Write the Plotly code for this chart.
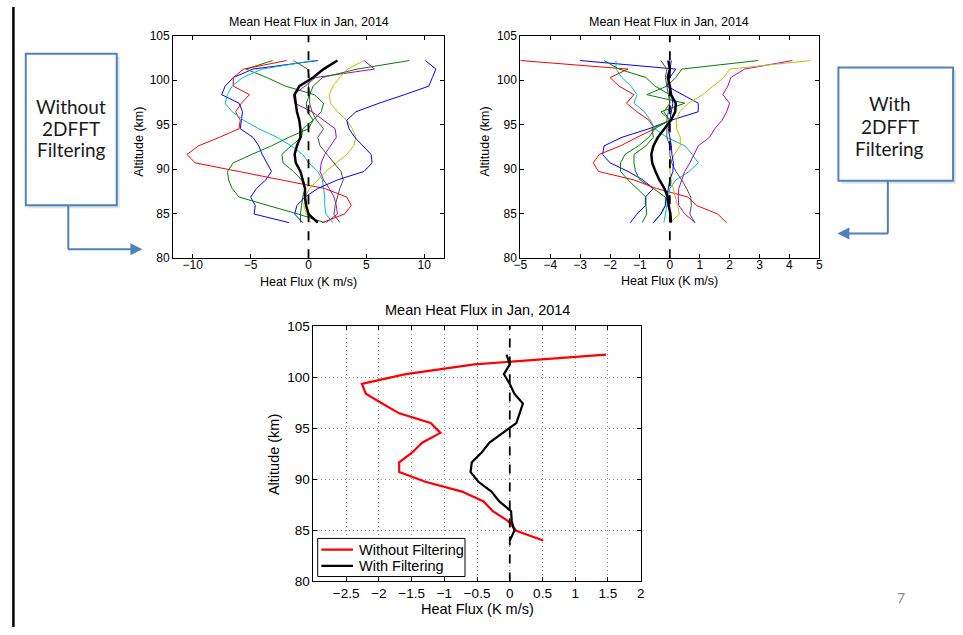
import plotly.graph_objects as go

# ---------------- data ----------------
altitude = [84.0, 84.96, 85.92, 86.87, 87.83, 88.79, 89.75, 90.71, 91.66, 92.62,
            93.58, 94.54, 95.50, 96.45, 97.41, 98.37, 99.33, 100.29, 101.24, 102.2]

# Panel 1: without 2DFFT filtering (bottom -> top)
p1_blue_a = [-1.7, -4.7, -4.6, -5.0, -4.5, -3.7, -3.2, -3.6, -4.0, -4.3, -4.8, -5.9, -5.8, -5.7, -6.0, -7.5, -7.2, -6.5, -4.8, 0.8]
p1_green_a = [-0.7, -0.7, -0.6, -0.5, -0.3, -0.6, -1.3, -2.2, -2.3, -1.5, -0.6, -0.5, 0.4, 1.1, 1.3, 0.5, -2.0, -3.6, -5.4, -3.1]
p1_red = [1.2, 3.1, 3.7, 3.3, 1.4, -2.3, -6.2, -9.8, -10.5, -9.5, -7.7, -6.0, -5.9, -6.3, -5.8, -5.1, -6.5, -6.5, -5.6, -1.9]
p1_cyan = [2.1, 1.5, 1.4, 1.4, 1.3, 1.2, 0.8, 0.0, -0.5, -1.5, -2.7, -4.3, -5.6, -6.6, -7.2, -7.0, -6.6, -5.7, -4.0, 0.5]
p1_magenta = [1.5, 2.5, 2.4, 2.2, 1.8, 1.3, 1.0, 1.1, 1.4, 1.9, 2.4, 2.3, 1.3, 0.3, -1.2, -1.3, -0.3, 0.6, 5.7, 4.8]
p1_yellow = [0.2, -0.2, -0.4, -0.3, 0.1, 0.8, 1.5, 2.4, 3.3, 3.9, 4.1, 3.8, 3.3, 2.5, 1.9, 1.8, 2.1, 2.7, 3.4, 4.8]
p1_gray = [2.7, 2.2, 2.3, 2.5, 2.7, 3.0, 2.8, 2.2, 1.6, 1.0, 0.8, 1.3, 0.7, 0.3, 0.1, 0.1, 0.0, 0.1, -0.1, -1.3]
p1_blue_b = [-0.5, -1.2, -1.0, -0.3, 0.8, 2.5, 4.8, 5.5, 5.4, 4.7, 4.0, 3.5, 3.3, 4.1, 6.1, 8.3, 10.4, 10.7, 11.0, 10.1]
p1_green_b = [1.4, -0.9, -3.5, -6.0, -6.6, -6.9, -7.0, -6.5, -4.9, -3.2, -1.7, 0.0, 0.4, -0.1, -0.2, 0.1, 0.4, 1.2, 4.2, 8.7]
p1_mean = [0.8, 0.0, -0.2, -0.3, -0.3, -0.5, -0.7, -1.1, -1.2, -1.0, -0.7, -0.7, -0.8, -1.0, -1.1, -1.2, -0.8, 0.4, 1.3, 2.5]

# Panel 2: with 2DFFT filtering (bottom -> top)
p2_blue_a = [-1.32, -1.1, -0.82, -0.82, -0.55, -0.9, -1.4, -2.0, -2.25, -2.2, -1.6, -0.7, 0.05, 0.95, 0.95, 0.4, -0.1, 0.0, 0.2, -3.0]
p2_green_a = [-0.55, -0.3, -0.15, -0.15, -0.55, -1.0, -1.15, -1.2, -1.2, -0.8, -0.55, -0.6, 0.0, -0.3, 0.5, -0.77, -0.1, 0.2, 0.4, 2.95]
p2_red = [1.9, 1.6, 0.9, 0.6, -0.45, -1.2, -2.39, -2.56, -2.36, -1.65, -1.1, -0.5, -0.7, -1.1, -1.45, -1.2, -1.7, -2.0, -1.4, -5.0]
p2_cyan = [-0.2, -0.15, -0.1, -0.05, 0.0, 0.2, 0.65, 0.95, 0.75, 0.5, -0.1, -0.5, -0.65, -0.85, -1.2, -1.1, -1.3, -1.6, -1.8, -1.8]
p2_magenta = [0.85, 0.5, 0.3, 0.28, 0.3, 0.39, 0.5, 0.67, 0.8, 0.95, 1.33, 1.5, 1.75, 1.9, 2.0, 1.77, 1.94, 2.04, 2.5, 4.1]
p2_yellow = [0.0, 0.32, 0.26, 0.18, 0.1, 0.04, 0.0, 0.02, 0.15, 0.35, 0.35, 0.22, 0.22, 0.33, 0.62, 1.1, 1.45, 1.8, 2.0, 4.7]
p2_gray = [0.83, 0.67, 0.72, 0.7, 0.56, 0.4, 0.2, 0.06, 0.0, 0.0, -0.1, -0.1, -0.1, -0.05, 0.0, -0.05, -0.1, -0.15, -0.1, -0.3]
p2_blue_b = [-0.55, -0.3, -0.15, -0.1, -0.05, 0.0, 0.1, 0.12, 0.07, 0.05, 0.0, -0.05, 0.0, 0.05, 0.1, 0.05, 0.0, -0.05, 0.0, 0.05]
p2_green_b = [-0.93, -0.77, -0.8, -0.8, -1.1, -1.4, -1.65, -1.65, -1.5, -1.05, -0.7, -0.5, 0.0, -0.2, 0.0, 0.0, -0.5, -0.8, -1.7, -2.2]
p2_mean = [0.04, 0.02, -0.04, -0.07, -0.18, -0.35, -0.48, -0.59, -0.62, -0.55, -0.4, -0.18, 0.04, 0.18, 0.2, 0.04, 0.0, -0.07, 0.0, -0.05]

# Panel 3: comparison of means
p3_without = [0.51, 0.1, -0.03, -0.26, -0.4, -0.73, -1.29, -1.69, -1.69, -1.49, -1.34, -1.06, -1.21, -1.69, -1.95, -2.2, -2.26, -1.59, -0.54, 1.47]
p3_with = [0.0, 0.07, 0.03, 0.02, -0.16, -0.28, -0.48, -0.6, -0.58, -0.43, -0.31, -0.11, 0.1, 0.15, 0.2, 0.07, 0.0, -0.09, 0.0, -0.05]
legend_names = ["Without Filtering", "With Filtering"]

y_range = [80, 105]
zero_x = [0, 0]
p1_xticks = [-10, -5, 0, 5, 10]
p2_xticks = [-5, -4, -3, -2, -1, 0, 1, 2, 3, 4, 5]
p3_xticks = [-2.5, -2, -1.5, -1, -0.5, 0, 0.5, 1, 1.5, 2]
y_ticks = [80, 85, 90, 95, 100, 105]

title_text = "Mean Heat Flux in Jan, 2014"
xlabel_text = "Heat Flux (K m/s)"
ylabel_text = "Altitude (km)"

# ---------------- styling ----------------
W, H = 963, 635
def fx(p):
    return p / W
def fy(p):
    return 1 - p / H

C_BLUE = "#0000ff"
C_GREEN = "#008000"
C_RED = "#ff0000"
C_CYAN = "#00bfbf"
C_MAG = "#bf00bf"
C_YEL = "#bfbf00"
C_GRAY = "#505050"
FONT = "Liberation Sans, Arial, Helvetica, sans-serif"
OFFICE = "#4f81bd"

fig = go.Figure()

panel1 = [(p1_blue_a, C_BLUE), (p1_green_a, C_GREEN), (p1_red, C_RED), (p1_cyan, C_CYAN),
          (p1_magenta, C_MAG), (p1_yellow, C_YEL), (p1_gray, C_GRAY), (p1_blue_b, C_BLUE),
          (p1_green_b, C_GREEN)]
panel2 = [(p2_blue_a, C_BLUE), (p2_green_a, C_GREEN), (p2_red, C_RED), (p2_cyan, C_CYAN),
          (p2_magenta, C_MAG), (p2_yellow, C_YEL), (p2_gray, C_GRAY), (p2_blue_b, C_BLUE),
          (p2_green_b, C_GREEN)]

for vals, col in panel1:
    fig.add_trace(go.Scatter(x=vals, y=altitude, mode="lines", line=dict(color=col, width=1),
                             xaxis="x", yaxis="y", showlegend=False, hoverinfo="skip"))
fig.add_trace(go.Scatter(x=p1_mean, y=altitude, mode="lines", line=dict(color="black", width=2.5),
                         xaxis="x", yaxis="y", showlegend=False))
fig.add_trace(go.Scatter(x=zero_x, y=y_range, mode="lines", line=dict(color="black", width=1.8, dash="dash"),
                         xaxis="x", yaxis="y", showlegend=False))

for vals, col in panel2:
    fig.add_trace(go.Scatter(x=vals, y=altitude, mode="lines", line=dict(color=col, width=1),
                             xaxis="x2", yaxis="y2", showlegend=False, hoverinfo="skip"))
fig.add_trace(go.Scatter(x=p2_mean, y=altitude, mode="lines", line=dict(color="black", width=2.5),
                         xaxis="x2", yaxis="y2", showlegend=False))
fig.add_trace(go.Scatter(x=zero_x, y=y_range, mode="lines", line=dict(color="black", width=1.8, dash="dash"),
                         xaxis="x2", yaxis="y2", showlegend=False))

fig.add_trace(go.Scatter(x=p3_without, y=altitude, mode="lines", name=legend_names[0],
                         line=dict(color=C_RED, width=2.2), xaxis="x3", yaxis="y3", showlegend=False))
fig.add_trace(go.Scatter(x=p3_with, y=altitude, mode="lines", name=legend_names[1],
                         line=dict(color="black", width=2.2), xaxis="x3", yaxis="y3", showlegend=False))
fig.add_trace(go.Scatter(x=zero_x, y=y_range, mode="lines", line=dict(color="black", width=1.8, dash="dash"),
                         xaxis="x3", yaxis="y3", showlegend=False))

def axis(domain, rng, tickvals, anchor, fsize, grid=False, standoff=0):
    return dict(domain=domain, range=rng, tickvals=tickvals, anchor=anchor,
                showline=True, linecolor="black", linewidth=1, mirror="ticks",
                ticks="inside", ticklen=4, tickcolor="black", tickwidth=1,
                zeroline=False, showgrid=grid, gridcolor="#909090", griddash="1px,3px", gridwidth=1,
                ticklabelstandoff=standoff,
                tickfont=dict(family=FONT, size=fsize, color="black"), fixedrange=True)

fig.update_layout(
    width=W, height=H, autosize=False,
    margin=dict(l=0, r=0, t=0, b=0),
    paper_bgcolor="white", plot_bgcolor="white",
    showlegend=False,
    xaxis=axis([fx(168), fx(442)], [-11.7, 11.7], p1_xticks, "y", 12, standoff=-5),
    yaxis=axis([fy(257.3), fy(29.3)], y_range, y_ticks, "x", 12),
    xaxis2=axis([fx(519.3), fx(821.7)], [-5, 5], p2_xticks, "y2", 12, standoff=-5),
    yaxis2=axis([fy(257.3), fy(29.3)], y_range, y_ticks, "x2", 12),
    xaxis3=axis([fx(310), fx(641)], [-3, 2], p3_xticks, "y3", 13.5, grid=True, standoff=-1),
    yaxis3=axis([fy(588.3), fy(326.7)], y_range, y_ticks, "x3", 13.5, grid=True),
)

ann = []
def text(x, y, s, size, angle=0, family=FONT, color="black", anchor="center"):
    ann.append(dict(x=fx(x), y=fy(y), xref="paper", yref="paper", text=s, showarrow=False,
                    xanchor=anchor, yanchor="middle", textangle=angle,
                    font=dict(family=family, size=size, color=color)))

# titles and axis labels
text(305, 15, title_text, 12.5)
text(670, 15, title_text, 12.5)
text(475.5, 310.5, title_text, 14.5)
text(305, 282, xlabel_text, 12.5)
text(670, 281, xlabel_text, 12.5)
text(475.5, 617, xlabel_text, 14.5)
text(133.5, 138, ylabel_text, 12.5, angle=-90)
text(483.3, 138, ylabel_text, 12.5, angle=-90)
text(270, 458, ylabel_text, 14.5, angle=-90)

# legend texts (panel 3)
text(354, 555.7, legend_names[0], 14.5, anchor="left")
text(354, 572.3, legend_names[1], 14.5, anchor="left")

# callout box texts
BOXF = "Lato, Open Sans, sans-serif"
text(65, 102, "Without", 19, family=BOXF, color="#1a1a1a")
text(65, 124, "2DFFT", 19, family=BOXF, color="#1a1a1a")
text(65, 146, "Filtering", 19, family=BOXF, color="#1a1a1a")
text(893, 99, "With", 19, family=BOXF, color="#1a1a1a")
text(893, 122, "2DFFT", 19, family=BOXF, color="#1a1a1a")
text(893, 145, "Filtering", 19, family=BOXF, color="#1a1a1a")

# slide page number
text(904, 604.5, "7", 14, family=BOXF, color="#8c8c8c")

# arrow heads (tail offsets in pixels)
ann.append(dict(x=fx(137), y=fy(248), ax=-76, ay=0, xref="paper", yref="paper",
                text="", showarrow=True, arrowhead=2,
                arrowsize=1.2, arrowwidth=2, arrowcolor=OFFICE))
ann.append(dict(x=fx(840), y=fy(232), ax=52, ay=0, xref="paper", yref="paper",
                text="", showarrow=True, arrowhead=2,
                arrowsize=1.2, arrowwidth=2, arrowcolor=OFFICE))
fig.update_layout(annotations=ann)

shapes = []
# left slide rule
shapes.append(dict(type="line", xref="paper", yref="paper", x0=fx(6.5), x1=fx(6.5), y0=0, y1=1,
                   line=dict(color="black", width=2.5)))
# box shadows and boxes
shapes.append(dict(type="rect", xref="paper", yref="paper", x0=fx(22), x1=fx(114), y0=fy(206), y1=fy(51),
                   line=dict(width=0), fillcolor="#e2e2e2", layer="below"))
shapes.append(dict(type="rect", xref="paper", yref="paper", x0=fx(19), x1=fx(111), y0=fy(203), y1=fy(48),
                   line=dict(color=OFFICE, width=2), fillcolor="white", layer="below"))
shapes.append(dict(type="rect", xref="paper", yref="paper", x0=fx(844), x1=fx(960), y0=fy(181), y1=fy(65),
                   line=dict(width=0), fillcolor="#e2e2e2", layer="below"))
shapes.append(dict(type="rect", xref="paper", yref="paper", x0=fx(841), x1=fx(957), y0=fy(178), y1=fy(62),
                   line=dict(color=OFFICE, width=2), fillcolor="white", layer="below"))
# arrow stems
shapes.append(dict(type="line", xref="paper", yref="paper", x0=fx(62), x1=fx(62), y0=fy(203), y1=fy(248),
                   line=dict(color=OFFICE, width=2)))
shapes.append(dict(type="line", xref="paper", yref="paper", x0=fx(891), x1=fx(891), y0=fy(178), y1=fy(232),
                   line=dict(color=OFFICE, width=2)))
# panel 3 legend box and samples
shapes.append(dict(type="rect", xref="paper", yref="paper", x0=fx(314.3), x1=fx(463.3), y0=fy(583.3), y1=fy(544.3),
                   line=dict(color="black", width=1), fillcolor="white", layer="above"))
shapes.append(dict(type="line", xref="paper", yref="paper", x0=fx(318), x1=fx(350), y0=fy(555.7), y1=fy(555.7),
                   line=dict(color=C_RED, width=2.2)))
shapes.append(dict(type="line", xref="paper", yref="paper", x0=fx(318), x1=fx(350), y0=fy(572.3), y1=fy(572.3),
                   line=dict(color="black", width=2.2)))
fig.update_layout(shapes=shapes)

post = ("document.documentElement.style.margin='0';document.documentElement.style.padding='0';"
        "document.body.style.margin='0';document.body.style.padding='0';document.body.style.overflow='hidden';")
fig.write_html("out.html", post_script=post)
